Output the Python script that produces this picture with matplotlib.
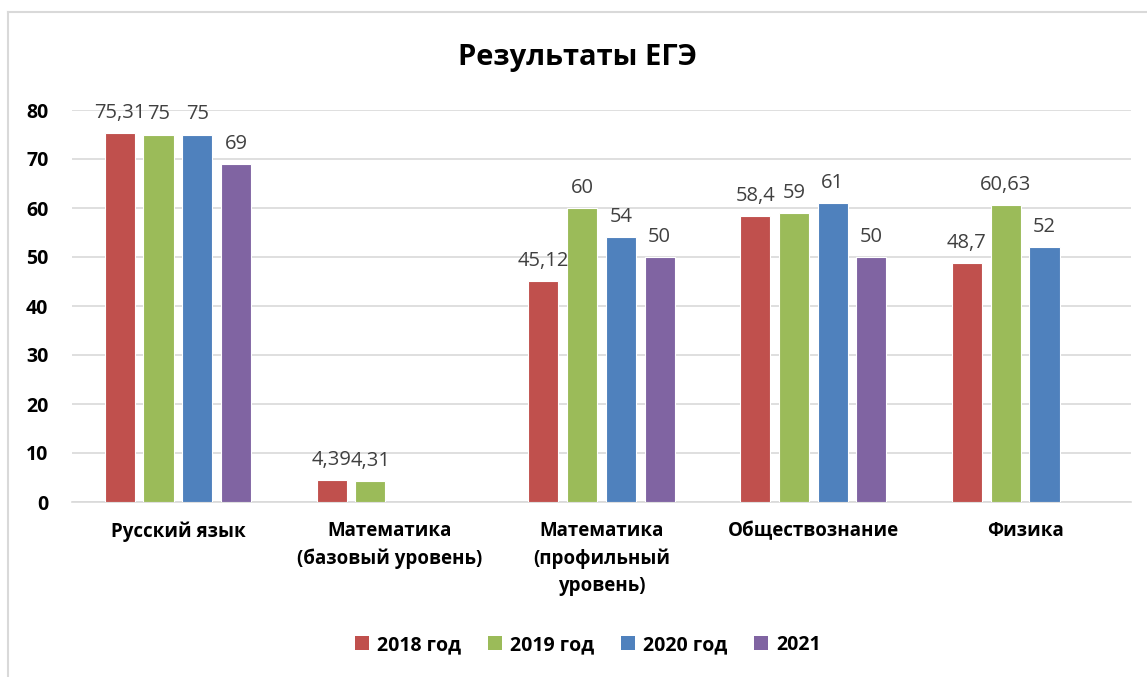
import numpy as np
import matplotlib
matplotlib.use('Agg')
import matplotlib.pyplot as plt
from matplotlib import font_manager
from matplotlib.lines import Line2D
from matplotlib.patches import Patch

# Data
categories = ["Русский язык", "Математика\n(базовый уровень)",
              "Математика\n(профильный\nуровень)", "Обществознание", "Физика"]
series_names = ["2018 год", "2019 год", "2020 год", "2021"]
values_2018 = [75.31, 4.39, 45.12, 58.4, 48.7]
values_2019 = [75, 4.31, 60, 59, 60.63]
values_2020 = [75, None, 54, 61, 52]
values_2021 = [69, None, 50, 50, None]
colors = ["#C0504D", "#9BBB59", "#4F81BD", "#8064A2"]
y_ticks = [0, 10, 20, 30, 40, 50, 60, 70, 80]

# pick a family that really has a bold face installed
bold_families = {f.name for f in font_manager.fontManager.ttflist
                 if (f.weight if isinstance(f.weight, int) else 400) >= 600
                 or str(f.weight) in ('bold', 'semibold', 'heavy', 'extra bold', 'black')}
family = 'DejaVu Sans'
for cand in ['Open Sans', 'Noto Sans', 'Liberation Sans']:
    if cand in bold_families:
        family = cand
        break
plt.rcParams['font.family'] = [family, 'DejaVu Sans']

W, H = 1147, 677
fig = plt.figure(figsize=(W / 100, H / 100), dpi=100)
ax = fig.add_axes([72 / W, 1 - 502 / H, (1131 - 72) / W, (502 - 110) / H])

all_series = [values_2018, values_2019, values_2020, values_2021]
x = np.arange(len(categories))
step = 0.183
width = 0.142


def fmt(v):
    # Russian style decimal comma
    return f"{v:g}".replace('.', ',')


for i, (vals, col) in enumerate(zip(all_series, colors)):
    for xi, v in zip(x, vals):
        if v is None:
            continue
        xpos = xi + (i - 1.5) * step
        ax.bar(xpos, v, width=width, color=col, edgecolor='white', linewidth=0.8, zorder=3)
        ax.annotate(fmt(v), (xpos, v), xytext=(0, 11), textcoords='offset points',
                    ha='center', va='baseline', fontsize=14.5, color='#404040', zorder=4)

ax.set_xlim(-0.5, len(categories) - 0.5)
ax.set_ylim(0, 80)
ax.set_yticks(y_ticks)
ax.set_yticklabels([str(t) for t in y_ticks], fontsize=14, fontweight='bold')
ax.set_xticks(x)
ax.set_xticklabels(categories, fontsize=13.5, fontweight='bold', linespacing=1.45)
ax.tick_params(axis='y', length=0, pad=17)
ax.tick_params(axis='x', length=0, pad=14)

ax.grid(axis='y', color='#D9D9D9', linewidth=1.2, zorder=0)
for s in ['top', 'right', 'left']:
    ax.spines[s].set_visible(False)
ax.spines['bottom'].set_color('#D9D9D9')
ax.spines['bottom'].set_linewidth(1.2)

fig.text(578 / W, 1 - 57 / H, "Результаты ЕГЭ", ha='center', va='center',
         fontsize=21, fontweight='bold')

handles = [Patch(facecolor=c, edgecolor='none') for c in colors]
fig.legend(handles, series_names, loc='center', bbox_to_anchor=(588 / W, 1 - 645 / H),
           ncol=4, frameon=False, prop={'size': 14, 'weight': 'bold'},
           handlelength=0.72, handleheight=0.72, handletextpad=0.4, columnspacing=1.4)

# light chart border (top and left visible in the original crop)
fig.add_artist(Line2D([8 / W, 1], [1 - 12 / H, 1 - 12 / H], transform=fig.transFigure,
                      color='#D9D9D9', linewidth=1.5))
fig.add_artist(Line2D([8 / W, 8 / W], [0, 1 - 12 / H], transform=fig.transFigure,
                      color='#D9D9D9', linewidth=1.5))

fig.savefig('out.png', dpi=100)
